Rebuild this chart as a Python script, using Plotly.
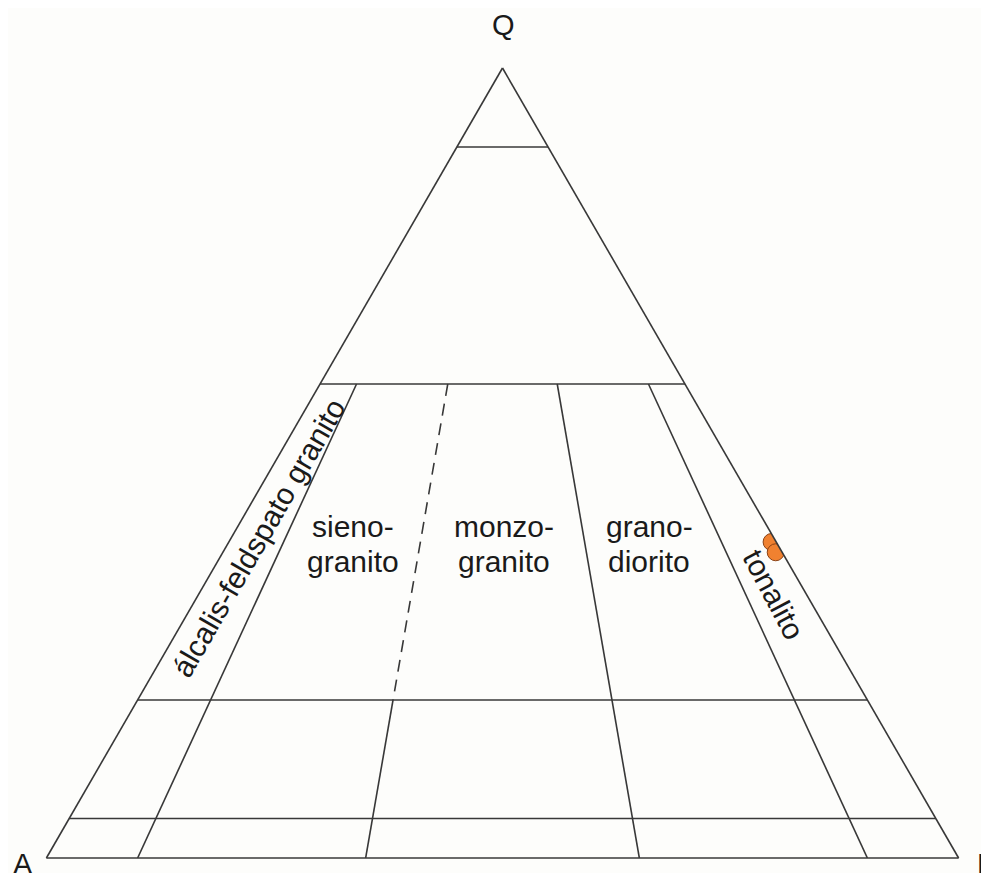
import plotly.graph_objects as go

# QAP diagram (Streckeisen), all values in percent: a = Q, b = A, c = P
q_levels = [90, 60, 20, 5]        # horizontal lines of constant Q
p_ratios = [10, 35, 65, 90]       # 100*P/(A+P) dividers, drawn from Q=60 down
dashed_ratio = 35                 # this one is dashed between Q=60 and Q=20
q_top = 60
q_dash_end = 20

# the two samples (orange dots)
sample_q = [40.0, 38.7]
sample_a = [0.5, 0.7]
sample_p = [59.5, 60.6]

field_labels = [["álcalis-feldspato granito"], ["sieno-", "granito"], ["monzo-", "granito"],
                ["grano-", "diorito"], ["tonalito"]]
corner_labels = ["Q", "A", "P"]

line_color = "#383838"
font = "Liberation Sans, Arial, sans-serif"

W, H = 989, 873
OFF = 8                      # page body margin around the plot div
ML, MR, MT, MB = 38, 38, 60, 23


def comp(q, r):
    # composition (Q, A, P) for a given Q and P/(A+P) ratio
    rest = 100 - q
    return q, rest * (100 - r) / 100, rest * r / 100


def seg(q0, q1, r=None, dash="solid"):
    if r is None:
        a, b, c = [q0, q0], [100 - q0, 0], [0, 100 - q0]
    else:
        p0, p1 = comp(q0, r), comp(q1, r)
        a, b, c = [p0[0], p1[0]], [p0[1], p1[1]], [p0[2], p1[2]]
    return go.Scatterternary(a=a, b=b, c=c, mode="lines", hoverinfo="skip",
                             line=dict(color=line_color, width=1.6, dash=dash))


fig = go.Figure()

for q in q_levels:
    fig.add_trace(seg(q, q))

for r in p_ratios:
    if r == dashed_ratio:
        fig.add_trace(seg(q_top, q_dash_end, r, dash="12px,8px"))
        fig.add_trace(seg(q_dash_end, 0, r))
    else:
        fig.add_trace(seg(q_top, 0, r))

fig.add_trace(go.Scatterternary(
    a=sample_q, b=sample_a, c=sample_p, mode="markers",
    marker=dict(size=17, color="#f08130", line=dict(color="#8a4215", width=1))))


def px(x, y):
    # pixel position in the page -> paper coordinates
    x, y = x - OFF, y - OFF
    return (x - ML) / (W - ML - MR), (H - MB - y) / (H - MT - MB)


label_pos = [(258, 538), (353, 544), (504, 544), (649, 544), (774, 594)]
label_rot = [-60, 0, 0, 0, 62]
line_gap = 35

annotations = []
for lines, (x, y), rot in zip(field_labels, label_pos, label_rot):
    n = len(lines)
    for i, txt in enumerate(lines):
        xp, yp = px(x, y + (i - (n - 1) / 2) * line_gap)
        annotations.append(dict(text=txt, x=xp, y=yp, xref="paper", yref="paper",
                                showarrow=False, textangle=rot, align="center",
                                xanchor="center", yanchor="middle",
                                font=dict(size=30, color="#1a1a1a", family=font)))

corner_pos = [(503, 25, "center"), (23, 864, "center"), (975, 864, "left")]
for txt, (x, y, anc) in zip(corner_labels, corner_pos):
    xp, yp = px(x, y)
    annotations.append(dict(text=txt, x=xp, y=yp, xref="paper", yref="paper",
                            showarrow=False, xanchor=anc, yanchor="middle",
                            font=dict(size=29, color="#1a1a1a", family=font)))

axis = dict(showgrid=False, showticklabels=False, ticks="", showline=True,
            linecolor=line_color, linewidth=1.6, title=dict(text=""))

fig.update_layout(
    width=W, height=H,
    margin=dict(l=ML, r=MR, t=MT, b=MB),
    showlegend=False,
    paper_bgcolor="#fdfdfb",
    ternary=dict(sum=100, bgcolor="#fdfdfb", aaxis=axis, baxis=axis, caxis=axis),
    annotations=annotations,
)

fig.write_html("out.html")
